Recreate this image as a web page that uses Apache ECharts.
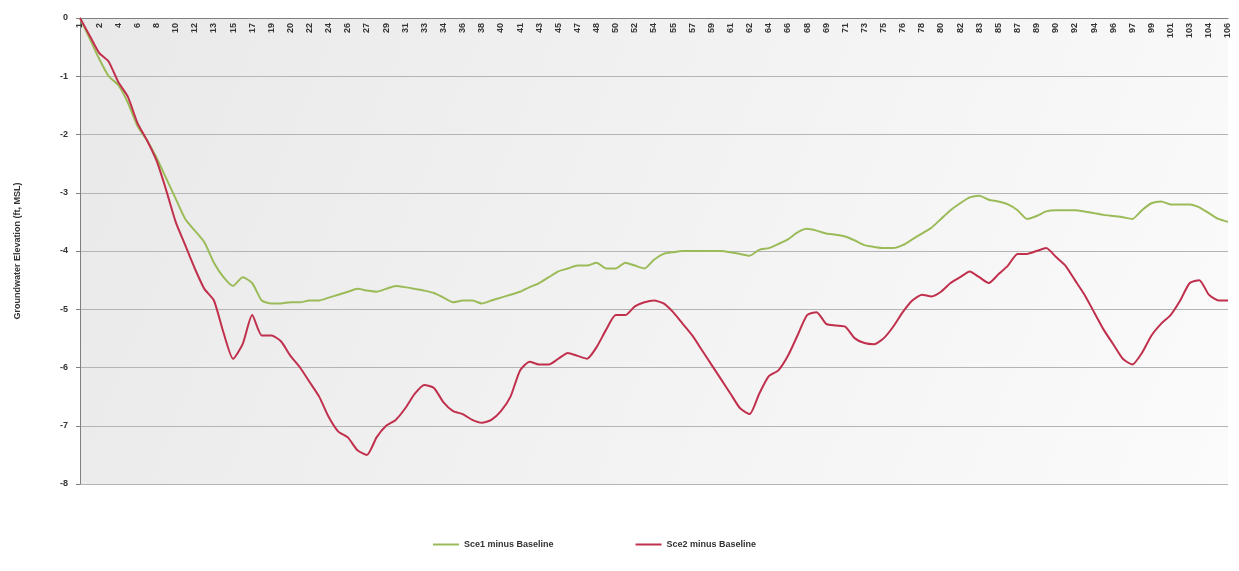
<!DOCTYPE html>
<html>
<head>
<meta charset="utf-8">
<script src="https://cdn.jsdelivr.net/npm/echarts@6/dist/echarts.min.js"></script>
<style>html,body{margin:0;padding:0;background:#fff;}#c{width:1239px;height:571px;}</style>
</head>
<body>
<div id="c"></div>
<script>
const tickLabels = [1,2,4,6,8,10,12,13,15,17,19,20,22,24,26,27,29,31,33,34,36,38,40,41,43,45,47,48,50,52,54,55,57,59,61,62,64,66,68,69,71,73,75,76,78,80,82,83,85,87,89,90,92,94,96,97,99,101,103,104,106];
const yTicks = [0,-1,-2,-3,-4,-5,-6,-7,-8];
const seriesNames = ['Sce1 minus Baseline','Sce2 minus Baseline'];
const sce1 = [0,-0.35,-0.7,-1.0,-1.15,-1.45,-1.85,-2.1,-2.4,-2.75,-3.1,-3.45,-3.65,-3.85,-4.2,-4.45,-4.6,-4.45,-4.55,-4.85,
-4.9,-4.9,-4.88,-4.88,-4.85,-4.85,-4.8,-4.75,-4.7,-4.65,-4.68,-4.7,-4.65,-4.6,-4.62,-4.65,-4.68,-4.72,-4.8,-4.88,
-4.85,-4.85,-4.9,-4.85,-4.8,-4.75,-4.7,-4.62,-4.55,-4.45,-4.35,-4.3,-4.25,-4.25,-4.2,-4.3,-4.3,-4.2,-4.25,-4.3,
-4.15,-4.05,-4.02,-4.0,-4.0,-4.0,-4.0,-4.0,-4.02,-4.05,-4.08,-3.98,-3.95,-3.88,-3.8,-3.68,-3.62,-3.65,-3.7,-3.72,
-3.75,-3.82,-3.9,-3.93,-3.95,-3.95,-3.9,-3.8,-3.7,-3.6,-3.45,-3.3,-3.18,-3.08,-3.05,-3.12,-3.15,-3.2,-3.3,-3.45,
-3.4,-3.32,-3.3,-3.3,-3.3,-3.32,-3.35,-3.38,-3.4,-3.42,-3.45,-3.3,-3.18,-3.15,-3.2,-3.2,-3.2,-3.25,-3.35,-3.45,-3.5];
const sce2 = [0,-0.3,-0.6,-0.75,-1.1,-1.35,-1.8,-2.1,-2.45,-2.95,-3.5,-3.9,-4.3,-4.65,-4.85,-5.4,-5.85,-5.6,-5.1,-5.45,
-5.45,-5.55,-5.8,-6.0,-6.25,-6.5,-6.85,-7.1,-7.2,-7.42,-7.5,-7.2,-7.0,-6.9,-6.7,-6.45,-6.3,-6.35,-6.6,-6.75,
-6.8,-6.9,-6.95,-6.9,-6.75,-6.5,-6.05,-5.9,-5.95,-5.95,-5.85,-5.75,-5.8,-5.85,-5.65,-5.35,-5.1,-5.1,-4.95,-4.88,
-4.85,-4.9,-5.05,-5.25,-5.45,-5.7,-5.95,-6.2,-6.45,-6.7,-6.8,-6.45,-6.15,-6.05,-5.8,-5.45,-5.1,-5.05,-5.25,-5.28,
-5.3,-5.5,-5.58,-5.6,-5.5,-5.3,-5.05,-4.85,-4.75,-4.78,-4.7,-4.55,-4.45,-4.35,-4.45,-4.55,-4.4,-4.25,-4.05,-4.05,
-4.0,-3.95,-4.1,-4.25,-4.5,-4.75,-5.05,-5.35,-5.6,-5.85,-5.95,-5.75,-5.45,-5.25,-5.1,-4.85,-4.55,-4.5,-4.75,-4.85,-4.85];

// categories: a labelled point every other category
const categories = [];
tickLabels.forEach((t, i) => { categories.push(String(t)); if (i < tickLabels.length - 1) categories.push(''); });

const chart = echarts.init(document.getElementById('c'));
chart.setOption({
  animation: false,
  backgroundColor: '#ffffff',
  grid: {
    left: 80, right: 11, top: 18, bottom: 87,
    show: true,
    borderWidth: 0,
    backgroundColor: new echarts.graphic.LinearGradient(0, 0, 1, 1, [
      {offset: 0, color: '#e9e9e9'}, {offset: 1, color: '#fbfbfb'}
    ])
  },
  legend: {
    bottom: 17, left: 428,
    itemWidth: 26, itemHeight: 2, itemGap: 82, itemTextGap: 4,
    icon: 'rect',
    textStyle: {fontFamily: 'Liberation Sans', fontSize: 9, color: '#333', fontWeight: 'bold'},
    data: seriesNames
  },
  xAxis: {
    type: 'category',
    position: 'top',
    boundaryGap: false,
    data: categories,
    axisLine: {lineStyle: {color: '#808080', width: 1}},
    axisTick: {show: false},
    axisLabel: {
      inside: true, rotate: 90, interval: 1,
      fontFamily: 'Liberation Sans', fontSize: 9, color: '#333', fontWeight: 'bold', margin: 5
    },
    splitLine: {show: false}
  },
  yAxis: {
    type: 'value',
    min: -8, max: 0, interval: 1,
    name: 'Groundwater Elevation (ft, MSL)',
    nameLocation: 'middle', nameRotate: 90, nameGap: 58,
    nameTextStyle: {fontFamily: 'Liberation Sans', fontSize: 9, color: '#333', fontWeight: 'bold'},
    axisLine: {show: true, lineStyle: {color: '#808080'}},
    axisTick: {show: true, length: 4, lineStyle: {color: '#808080'}},
    axisLabel: {fontFamily: 'Liberation Sans', fontSize: 9, color: '#333', fontWeight: 'bold', margin: 12},
    splitLine: {lineStyle: {color: '#b4b4b4', width: 1}}
  },
  series: [
    {name: seriesNames[0], type: 'line', data: sce1, showSymbol: false, smooth: 0.2,
     lineStyle: {color: '#9bbb59', width: 2}, itemStyle: {color: '#9bbb59'}},
    {name: seriesNames[1], type: 'line', data: sce2, showSymbol: false, smooth: 0.2,
     lineStyle: {color: '#c0304d', width: 2}, itemStyle: {color: '#c0304d'}}
  ]
});
</script>
</body>
</html>
